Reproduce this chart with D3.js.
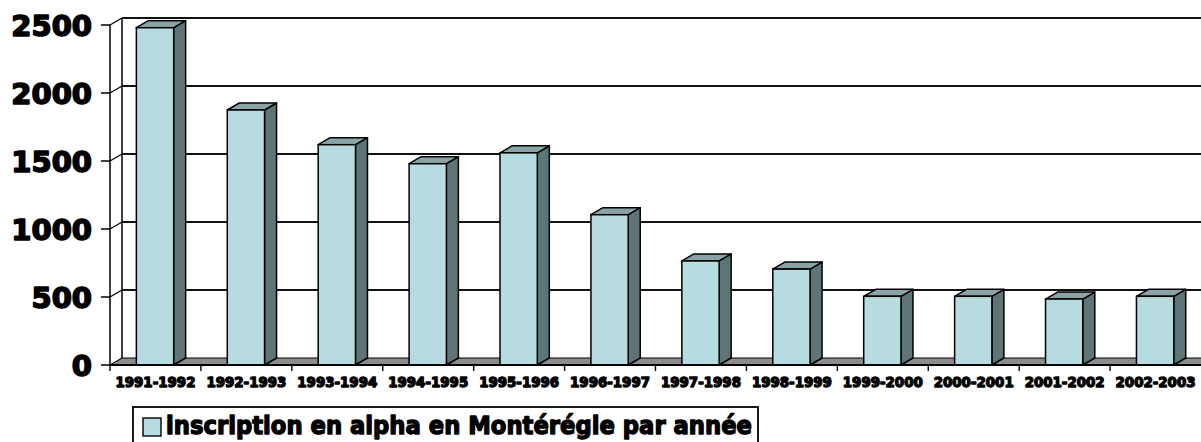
<!DOCTYPE html>
<html>
<head>
<meta charset="utf-8">
<script src="https://cdn.jsdelivr.net/npm/d3@7"></script>
<style>
  html, body { margin: 0; padding: 0; background: #ffffff; }
  svg { display: block; }
</style>
</head>
<body>
<svg id="chart" width="1201" height="442"></svg>
<script>
const categories = ["1991-1992","1992-1993","1993-1994","1994-1995","1995-1996","1996-1997",
                    "1997-1998","1998-1999","1999-2000","2000-2001","2001-2002","2002-2003"];
const values = [2480, 1875, 1620, 1480, 1560, 1105, 765, 705, 505, 505, 485, 505];
const yTicks = [0, 500, 1000, 1500, 2000, 2500];
const seriesName = "inscription en alpha en Montérégie par année";

(function () {
const svg = d3.select("#chart");
const pLeft = 110, pRight = 1201, pTop = 25, pBottom = 365;
const dx = 12, dy = -7;

const x = d3.scaleBand().domain(categories).range([pLeft, pRight]);
const y = d3.scaleLinear().domain([0, 2500]).range([pBottom, pTop]);
const bw = x.bandwidth();

const font = "'DejaVu Sans', sans-serif";

// back wall gridlines
const g = svg.append("g");
yTicks.forEach(t => {
  if (t === 0) return;
  g.append("line").attr("x1", pLeft + dx).attr("x2", pRight).attr("y1", y(t) + dy).attr("y2", y(t) + dy)
    .attr("stroke", "#111").attr("stroke-width", 1.8);
  g.append("line").attr("x1", pLeft).attr("x2", pLeft + dx).attr("y1", y(t)).attr("y2", y(t) + dy)
    .attr("stroke", "#000").attr("stroke-width", 1.2);
});
g.append("line").attr("x1", pLeft + dx).attr("x2", pLeft + dx).attr("y1", y(2500) + dy).attr("y2", pBottom + dy)
  .attr("stroke", "#000").attr("stroke-width", 1.5);

// floor
g.append("path")
  .attr("d", `M${pLeft},${pBottom} L${pLeft+dx},${pBottom+dy} L${pRight+dx},${pBottom+dy} L${pRight},${pBottom} Z`)
  .attr("fill", "#8c8c8c").attr("stroke", "#000").attr("stroke-width", 1.2);

// bars
const bars = svg.append("g");
categories.forEach((c, i) => {
  const x0 = x(c) + bw * 0.29;
  const w = bw * 0.41;
  const yt = y(values[i]);
  const yb = y(0);
  bars.append("path")
    .attr("d", `M${x0+w},${yt} L${x0+w+dx},${yt+dy} L${x0+w+dx},${yb+dy} L${x0+w},${yb} Z`)
    .attr("fill", "#5d7576").attr("stroke", "#000").attr("stroke-width", 1.5).attr("stroke-linejoin", "round");
  bars.append("path")
    .attr("d", `M${x0},${yt} L${x0+dx},${yt+dy} L${x0+w+dx},${yt+dy} L${x0+w},${yt} Z`)
    .attr("fill", "#8aa3a5").attr("stroke", "#000").attr("stroke-width", 1.5).attr("stroke-linejoin", "round");
  bars.append("rect")
    .attr("x", x0).attr("y", yt).attr("width", w).attr("height", yb - yt)
    .attr("fill", "#b6dbe0").attr("stroke", "#000").attr("stroke-width", 1.5);
});

// y axis
const ya = svg.append("g");
ya.append("line").attr("x1", pLeft).attr("x2", pLeft).attr("y1", y(2500)).attr("y2", pBottom)
  .attr("stroke", "#000").attr("stroke-width", 1.5);
yTicks.forEach(t => {
  ya.append("line").attr("x1", pLeft - 9).attr("x2", pLeft).attr("y1", y(t)).attr("y2", y(t))
    .attr("stroke", "#000").attr("stroke-width", 1.5);
  ya.append("text").attr("x", 92).attr("y", y(t) + 10.5)
    .attr("text-anchor", "end").attr("font-family", font).attr("font-weight", "bold")
    .attr("font-size", 29).attr("fill", "#000")
    .attr("stroke", "#000").attr("stroke-width", 1.6).attr("stroke-linejoin", "round")
    .text(t);
});

// x axis
const xa = svg.append("g");
xa.append("line").attr("x1", pLeft).attr("x2", pRight).attr("y1", pBottom).attr("y2", pBottom)
  .attr("stroke", "#000").attr("stroke-width", 1.8);
categories.forEach((c) => {
  xa.append("line").attr("x1", x(c)).attr("x2", x(c)).attr("y1", pBottom).attr("y2", pBottom + 6)
    .attr("stroke", "#000").attr("stroke-width", 1.4);
  xa.append("text").attr("x", x(c) + bw / 2).attr("y", 387)
    .attr("text-anchor", "middle").attr("font-family", font).attr("font-weight", "bold")
    .attr("font-size", 13.5).attr("textLength", 80).attr("lengthAdjust", "spacingAndGlyphs")
    .attr("fill", "#000").attr("stroke", "#000").attr("stroke-width", 1.3).attr("stroke-linejoin", "round")
    .text(c);
});

// legend
const lg = svg.append("g");
lg.append("rect").attr("x", 133).attr("y", 407).attr("width", 625).attr("height", 60)
  .attr("fill", "#fff").attr("stroke", "#000").attr("stroke-width", 1.8);
lg.append("rect").attr("x", 143).attr("y", 418).attr("width", 18).attr("height", 18)
  .attr("fill", "#b6dbe0").attr("stroke", "#000").attr("stroke-width", 1.4);
lg.append("text").attr("x", 166).attr("y", 434)
  .attr("font-family", font).attr("font-weight", "bold").attr("font-size", 25)
  .attr("textLength", 586).attr("lengthAdjust", "spacingAndGlyphs")
  .attr("fill", "#000").attr("stroke", "#000").attr("stroke-width", 1.4).attr("stroke-linejoin", "round")
  .text(seriesName);
})();
</script>
</body>
</html>
